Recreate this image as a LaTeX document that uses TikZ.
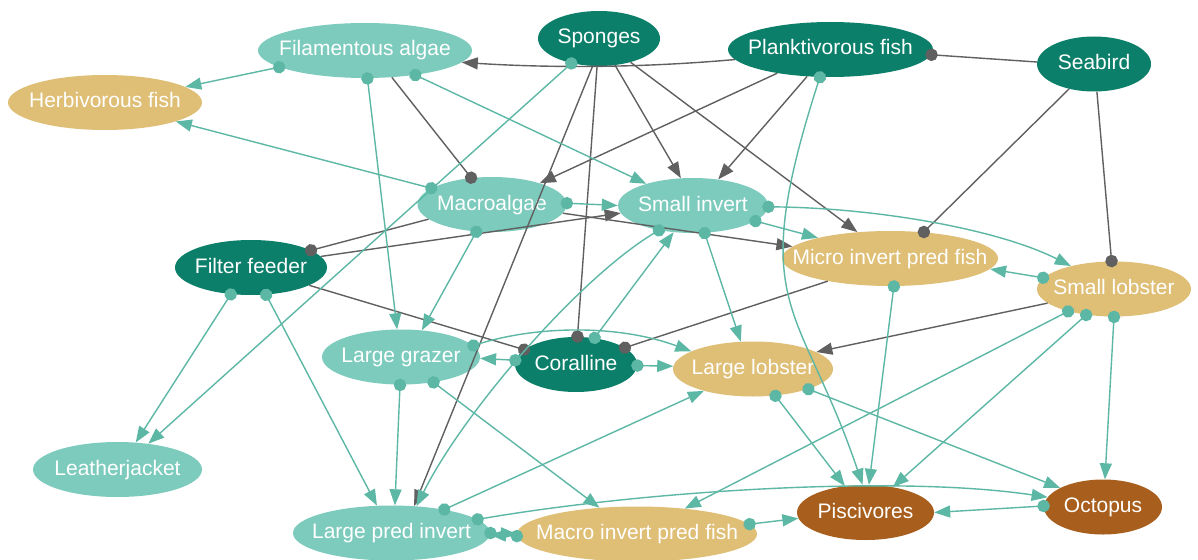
\documentclass[tikz,border=0pt]{standalone}
\usepackage{fontspec}
\setmainfont{Liberation Sans}
\usetikzlibrary{arrows.meta,shapes.geometric}
\definecolor{dkg}{HTML}{0B7F6A}
\definecolor{ltg}{HTML}{7DCBBD}
\definecolor{ntan}{HTML}{DFBE75}
\definecolor{brn}{HTML}{A85E1C}
\definecolor{eteal}{HTML}{5DB7A5}
\definecolor{egray}{HTML}{606060}
\begin{document}
\begin{tikzpicture}[x=1pt,y=-1pt,
  nd/.style={ellipse, inner sep=0pt, minimum height=55pt, text=white,
    font=\fontsize{21}{24}\selectfont, text height=15pt, text depth=4pt},
  dk/.style={nd, fill=dkg},
  lt/.style={nd, fill=ltg},
  tn/.style={nd, fill=ntan},
  br/.style={nd, fill=brn},
  tpos/.style={draw=eteal, line width=1.4pt,
    {Circle[length=12.5pt]}-{Triangle[length=16pt,width=12pt]}, shorten <=-6pt},
  gneg/.style={draw=egray, line width=1.4pt, -{Circle[length=12.5pt]}, shorten >=-6pt},
  gpos/.style={draw=egray, line width=1.4pt, -{Triangle[length=16pt,width=12pt]}}
]
\fill[white] (0,0) rectangle (1198,559);
\useasboundingbox (0,0) rectangle (1198,559);

% nodes
\node[lt, minimum width=214pt] (FA) at (365,50.5) {\makebox[0pt]{Filamentous algae}};
\node[tn, minimum width=194pt] (HF) at (105,102.5) {\makebox[0pt]{Herbivorous fish}};
\node[dk, minimum width=122pt] (SP) at (599,38.5) {\makebox[0pt]{Sponges}};
\node[dk, minimum width=205pt] (PF) at (830.5,49.5) {\makebox[0pt]{Planktivorous fish}};
\node[dk, minimum width=114pt] (SB) at (1094,64) {\makebox[0pt]{Seabird}};
\node[lt, minimum width=149pt] (MA) at (492,204.5) {\makebox[0pt]{Macroalgae}};
\node[lt, minimum width=150pt] (SI) at (693,205.5) {\makebox[0pt]{Small invert}};
\node[dk, minimum width=152pt] (FF) at (251,267.5) {\makebox[0pt]{Filter feeder}};
\node[tn, minimum width=216pt] (MIPF) at (890,258.5) {\makebox[0pt]{Micro invert pred fish}};
\node[tn, minimum width=154pt] (SL) at (1114,289) {\makebox[0pt]{Small lobster}};
\node[lt, minimum width=158pt] (LG) at (401,357) {\makebox[0pt]{Large grazer}};
\node[dk, minimum width=122pt] (CO) at (576,364.5) {\makebox[0pt]{Coralline}};
\node[tn, minimum width=160pt] (LL) at (753,369) {\makebox[0pt]{Large lobster}};
\node[lt, minimum width=169pt] (LJ) at (117.5,469.5) {\makebox[0pt]{Leatherjacket}};
\node[lt, minimum width=197pt] (LPI) at (391.5,533) {\makebox[0pt]{Large pred invert}};
\node[tn, minimum width=240pt] (MAC) at (637,534) {\makebox[0pt]{Macro invert pred fish}};
\node[br, minimum width=137pt] (PI) at (865.5,512.5) {\makebox[0pt]{Piscivores}};
\node[br, minimum width=118pt] (OC) at (1103,507) {\makebox[0pt]{Octopus}};

% gray negative links
\draw[gneg] (SB.178) -- (PF.357);
\draw[gneg] (SB.225) -- (MIPF.38);
\draw[gneg] (SB.276) -- (SL.95);
\draw[gneg] (FA.315) -- (MA.128);
\draw[gneg] (MA.193) -- (FF.16);
\draw[gneg] (SP.266) -- (CO.87);
\draw[gneg] (FF.343) -- (CO.164);
\draw[gneg] (MIPF.200) -- (CO.19);
% gray positive links
\draw[gpos] (PF.186) .. controls (640,68) and (550,68) .. (FA.353);
\draw[gpos] (PF.204) -- (MA.24);
\draw[gpos] (PF.229) -- (SI.46);
\draw[gpos] (SP.301) -- (SI.114);
\draw[gpos] (SP.323) -- (MIPF.141);
\draw[gpos] (SP.257) -- (LPI.50);
\draw[gpos] (FF.9) -- (SI.186);
\draw[gpos] (MA.353) -- (MIPF.173);
\draw[gpos] (SL.192) -- (LL.15);
% teal links
\draw[tpos] (FA.191) -- (HF.11);
\draw[tpos] (MA.165) -- (HF.345);
\draw[tpos] (FA.334) -- (SI.155);
\draw[tpos] (FA.275) -- (LG.98);
\draw[tpos] (MA.240) -- (LG.52);
\draw[tpos] (SP.222) -- (LJ.40);
\draw[tpos] (FF.233) -- (LJ.56);
\draw[tpos] (FF.299) -- (LPI.118);
\draw[tpos] (LG.268) -- (LPI.83);
\draw[tpos] (LG.322) -- (MAC.145);
\draw[tpos] (MA.1) -- (SI.180);
\draw[tpos] (CO.55) -- (SI.234);
\draw[tpos] (SI.216) .. controls (578,279) and (463,413) .. (LPI.47);
\draw[tpos] (SI.293) -- (LL.114);
\draw[tpos] (SI.346) -- (MIPF.164);
\draw[tpos] (SI.359) .. controls (880,208) and (1000,230) .. (SL.152);
\draw[tpos] (PF.249) .. controls (745,310) and (800,300) .. (PI.96);
\draw[tpos] (MIPF.278) -- (PI.83);
\draw[tpos] (SL.171) -- (MIPF.354);
\draw[tpos] (SL.206) -- (MAC.28);
\draw[tpos] (SL.223) -- (PI.43);
\draw[tpos] (SL.270) -- (OC.86);
\draw[tpos] (LL.340) -- (OC.156);
\draw[tpos] (LL.310) -- (PI.128);
\draw[tpos] (LPI.24) -- (LL.204);
\draw[tpos] (LPI.9) .. controls (650,490) and (900,475) .. (OC.170);
\draw[tpos] (OC.179) -- (PI.0);
\draw[tpos] (MAC.5) -- (PI.185);
\draw[tpos] (LPI.0) -- (MAC.180);
\draw[tpos] (MAC.181) -- (LPI.359);
\draw[tpos] (CO.176) -- (LG.359);
\draw[tpos] (LG.9) .. controls (540,325) and (620,325) .. (LL.164);
\draw[tpos] (CO.359) -- (LL.178);
\end{tikzpicture}
\end{document}
